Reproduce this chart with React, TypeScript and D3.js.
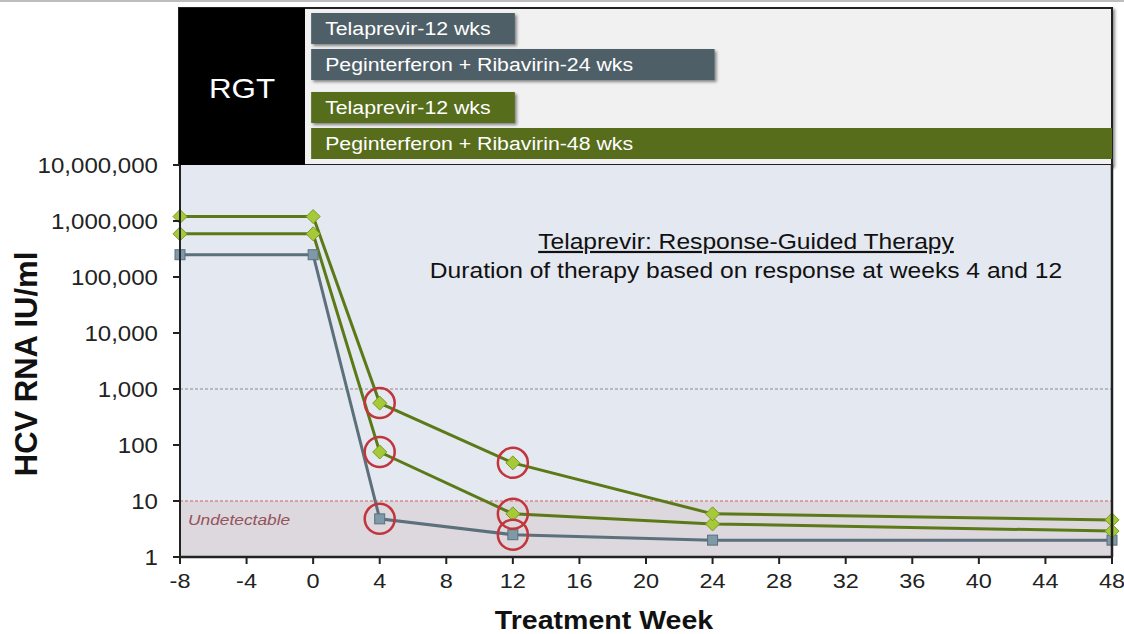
import * as d3 from 'd3';

// treatment weeks where viral load was sampled
const weeks = [-8, 0, 4, 12, 24, 48];

// HCV RNA (IU/ml) per arm
const greenHigh = [1200000, 1200000, 560, 48, 5.9, 4.6];
const greenLow = [590000, 590000, 75, 5.9, 3.9, 2.9];
const grayArm = [250000, 250000, 4.8, 2.5, 2.0, 2.0];

// points circled as response checks: [week, value]
const checkpoints: [number, number][] = [
  [4, 560], [4, 75], [4, 4.8],
  [12, 48], [12, 5.9], [12, 2.5],
];

const xTicks = [-8, -4, 0, 4, 8, 12, 16, 20, 24, 28, 32, 36, 40, 44, 48];
const yTicks = [1, 10, 100, 1000, 10000, 100000, 1000000, 10000000];

// regimen bars: [label, start week, end week, colour group]
const regimens: [string, number, number, string][] = [
  ['Telaprevir-12 wks', 0, 12, 'gray'],
  ['Peginterferon + Ribavirin-24 wks', 0, 24, 'gray'],
  ['Telaprevir-12 wks', 0, 12, 'green'],
  ['Peginterferon + Ribavirin-48 wks', 0, 48, 'green'],
];

const W = 1124;
const H = 634;
const font = 'Arial, "Liberation Sans", sans-serif';
const STRETCH = 1.12; // source slide is a bit wider than tall

// text drawn with the slide's horizontal stretch
const T = ({ x, y, children, s = STRETCH, ...rest }: any) => (
  <text transform={`translate(${x},${y}) scale(${s},1)`} {...rest}>
    {children}
  </text>
);

export default function App() {
  const x = d3.scaleLinear().domain([-8, 48]).range([180, 1112]);
  const y = d3.scaleLog().domain([1, 1e7]).range([557, 165]);

  const line = d3
    .line<number>()
    .x((_, i) => x(weeks[i]))
    .y((d) => y(d));

  const fmt = d3.format(',');

  const barColor: Record<string, string> = { gray: '#4f5f68', green: '#576d1b' };
  const barTops = [13, 49, 92, 128];
  const barH = 31;
  const barLeft = x(0) - 2;

  const diamond = (cx: number, cy: number, r: number) =>
    `M${cx},${cy - r}L${cx + r},${cy}L${cx},${cy + r}L${cx - r},${cy}Z`;

  return (
    <svg
      width={W}
      height={H}
      style={{ position: 'absolute', left: 0, top: 0, background: '#fff' }}
      fontFamily={font}
    >
      <defs>
        <filter id="sh" x="-5%" y="-5%" width="110%" height="120%">
          <feDropShadow dx="2" dy="2" stdDeviation="1.5" floodColor="#000" floodOpacity="0.45" />
        </filter>
      </defs>
      <line x1={0} x2={W} y1={1} y2={1} stroke="#bdbdbd" strokeWidth={2} />

      {/* header panel */}
      <rect x={179} y={8} width={933} height={157} fill="#f1f1f1" stroke="#222" strokeWidth={2} filter="url(#sh)" />
      <rect x={179} y={8} width={126} height={157} fill="#000" />
      <T x={242} y={98} fill="#fff" fontSize={28} textAnchor="middle">RGT</T>
      {regimens.map(([label, , end, grp], i) => (
        <g key={i}>
          <rect
            x={barLeft}
            y={barTops[i]}
            width={x(end) - barLeft + (end === 48 ? 0 : 2)}
            height={barH}
            fill={barColor[grp]}
            filter={end === 48 ? undefined : 'url(#sh)'}
          />
          <T x={barLeft + 14} y={barTops[i] + 22} fill="#fff" fontSize={19}>{label}</T>
        </g>
      ))}

      {/* plot background */}
      <rect x={x(-8)} y={y(1e7)} width={x(48) - x(-8)} height={y(1) - y(1e7)} fill="#e4e8f0" />
      <rect x={x(-8)} y={y(10)} width={x(48) - x(-8)} height={y(1) - y(10)} fill="#ddd7de" />
      <line x1={x(-8)} x2={x(48)} y1={y(1000)} y2={y(1000)} stroke="#8a8a8a" strokeWidth={1} strokeDasharray="3,2" />
      <line x1={x(-8)} x2={x(48)} y1={y(10)} y2={y(10)} stroke="#d58a8f" strokeWidth={1.5} strokeDasharray="3,2" />
      <T x={188} y={525} fill="#94535a" fontSize={15.5} fontStyle="italic">Undetectable</T>

      {/* annotation */}
      <T x={746} y={249} fontSize={22} textAnchor="middle" fill="#111" textDecoration="underline">
        Telaprevir: Response-Guided Therapy
      </T>
      <T x={746} y={278} fontSize={22} textAnchor="middle" fill="#111">
        Duration of therapy based on response at weeks 4 and 12
      </T>

      {/* lines */}
      <path d={line(grayArm) || ''} fill="none" stroke="#5c707c" strokeWidth={3} />
      <path d={line(greenLow) || ''} fill="none" stroke="#5b7a17" strokeWidth={3} />
      <path d={line(greenHigh) || ''} fill="none" stroke="#5b7a17" strokeWidth={3} />

      {grayArm.map((v, i) => (
        <rect key={'g' + i} x={x(weeks[i]) - 5} y={y(v) - 5} width={10} height={10} fill="#7e99a8" stroke="#5c707c" strokeWidth={1} />
      ))}
      {[greenLow, greenHigh].map((s, j) =>
        s.map((v, i) => (
          <path key={'d' + j + i} d={diamond(x(weeks[i]), y(v), 7)} fill="#a6c93a" stroke="#7a9a22" strokeWidth={1} />
        ))
      )}

      {checkpoints.map(([w, v], i) => (
        <circle key={'c' + i} cx={x(w)} cy={y(v)} r={15} fill="none" stroke="#c0363c" strokeWidth={2.5} />
      ))}

      {/* axes */}
      <line x1={x(-8)} x2={x(-8)} y1={y(1e7)} y2={y(1)} stroke="#222" strokeWidth={2} />
      <line x1={x(48)} x2={x(48)} y1={165} y2={y(1)} stroke="#222" strokeWidth={2.5} />
      <line x1={x(-8)} x2={x(48)} y1={y(1)} y2={y(1)} stroke="#222" strokeWidth={2.5} />
      {yTicks.map((t) => (
        <g key={'y' + t}>
          <line x1={x(-8) - 7} x2={x(-8)} y1={y(t)} y2={y(t)} stroke="#222" strokeWidth={2} />
          <T x={158} y={y(t) + 8} fontSize={21.5} textAnchor="end" fill="#222">{fmt(t)}</T>
        </g>
      ))}
      {xTicks.map((t) => (
        <g key={'x' + t}>
          <line x1={x(t)} x2={x(t)} y1={y(1)} y2={y(1) + 7} stroke="#222" strokeWidth={2} />
          <T x={x(t)} y={588} fontSize={21} textAnchor="middle" fill="#222">{t}</T>
        </g>
      ))}

      <T x={604} y={629} fontSize={25.5} fontWeight="bold" textAnchor="middle" fill="#111">Treatment Week</T>
      <text
        transform={`translate(37,${364}) rotate(-90)`}
        fontSize={31}
        fontWeight="bold"
        textAnchor="middle"
        fill="#111"
      >
        HCV RNA IU/ml
      </text>
    </svg>
  );
}
